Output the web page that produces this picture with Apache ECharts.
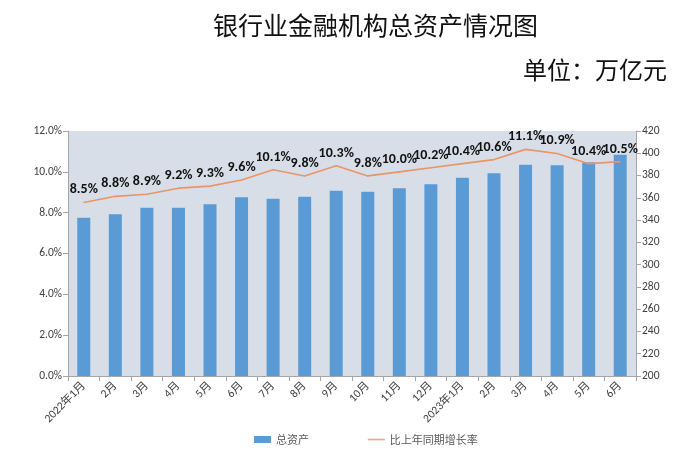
<!DOCTYPE html>
<html>
<head>
<meta charset="utf-8">
<script src="https://cdn.jsdelivr.net/npm/echarts@6/dist/echarts.min.js"></script>
<style>html,body{margin:0;padding:0;background:#fff}#c{width:700px;height:460px}</style>
</head>
<body>
<div id="c"></div>
<script>
var categories = ['2022年1月','2月','3月','4月','5月','6月','7月','8月','9月','10月','11月','12月','2023年1月','2月','3月','4月','5月','6月'];
var totalAssets = [342.2, 345.2, 351.1, 351.1, 354.2, 360.5, 359.2, 361.0, 366.4, 365.5, 368.6, 372.1, 378.1, 382.0, 389.8, 389.2, 391.9, 398.7];
var growthRate = [8.5, 8.8, 8.9, 9.2, 9.3, 9.6, 10.1, 9.8, 10.3, 9.8, 10.0, 10.2, 10.4, 10.6, 11.1, 10.9, 10.4, 10.5];
var titleText = '银行业金融机构总资产情况图';
var unitText = '单位：万亿元';
var seriesNames = ['总资产', '比上年同期增长率'];

var chart = echarts.init(document.getElementById('c'), null, {renderer: 'canvas'});
var axisFont = {fontFamily: 'Calibri, Carlito, "Liberation Sans", "Noto Sans CJK SC", sans-serif', fontSize: 11.5, color: '#404040'};
chart.setOption({
  animation: false,
  backgroundColor: '#ffffff',
  title: {
    text: titleText,
    left: 208, top: 8,
    textStyle: {fontFamily: '"Noto Sans CJK SC", sans-serif', fontSize: 25, fontWeight: 'normal', color: '#111'}
  },
  graphic: [{
    type: 'text', left: 523, top: 58,
    style: {text: unitText, font: 'normal 24px "Noto Sans CJK SC", sans-serif', fill: '#111'}
  }],
  legend: {
    left: 249, top: 429,
    itemGap: 58, itemWidth: 17, itemHeight: 7,
    textStyle: {fontFamily: '"Noto Sans CJK SC", sans-serif', fontSize: 11, color: '#595959'},
    data: [
      {name: seriesNames[0], icon: 'rect'},
      {name: seriesNames[1], itemStyle: {opacity: 0}, lineStyle: {color: '#EFA57C', width: 1.6}}
    ]
  },
  grid: {
    left: 68, right: 64, top: 131, bottom: 84,
    show: true, backgroundColor: '#D8DEE8', borderWidth: 0
  },
  xAxis: {
    type: 'category',
    data: categories,
    boundaryGap: true,
    axisLine: {lineStyle: {color: '#A6A6A6'}},
    axisTick: {show: true, alignWithLabel: false, length: 5, lineStyle: {color: '#A6A6A6'}},
    axisLabel: Object.assign({rotate: 45, interval: 0, margin: 8}, axisFont)
  },
  yAxis: [{
    type: 'value', min: 0, max: 12, interval: 2,
    axisLine: {show: true, lineStyle: {color: '#A6A6A6'}},
    axisTick: {show: true, length: 5, lineStyle: {color: '#A6A6A6'}},
    splitLine: {show: false},
    axisLabel: Object.assign({formatter: function (v) { return v.toFixed(1) + '%'; }, margin: 6}, axisFont)
  }, {
    type: 'value', min: 200, max: 420, interval: 20,
    axisLine: {show: true, lineStyle: {color: '#A6A6A6'}},
    axisTick: {show: true, length: 5, lineStyle: {color: '#A6A6A6'}},
    splitLine: {show: false},
    axisLabel: Object.assign({margin: 6}, axisFont)
  }],
  series: [{
    name: seriesNames[0],
    type: 'bar',
    yAxisIndex: 1,
    data: totalAssets,
    barWidth: 13,
    itemStyle: {color: '#5B9BD5'}
  }, {
    name: seriesNames[1],
    type: 'line',
    yAxisIndex: 0,
    data: growthRate,
    symbol: 'circle',
    symbolSize: 1,
    showSymbol: true,
    showAllSymbol: true,
    lineStyle: {color: '#EB9466', width: 1.6},
    itemStyle: {color: '#EB9466'},
    label: {
      show: true, position: 'top', distance: 5,
      formatter: function (p) { return p.value.toFixed(1) + '%'; },
      fontFamily: 'Carlito, Calibri, "DejaVu Sans", sans-serif', fontWeight: 'bold', fontSize: 14, color: '#111'
    },
    z: 5
  }]
});
</script>
</body>
</html>
